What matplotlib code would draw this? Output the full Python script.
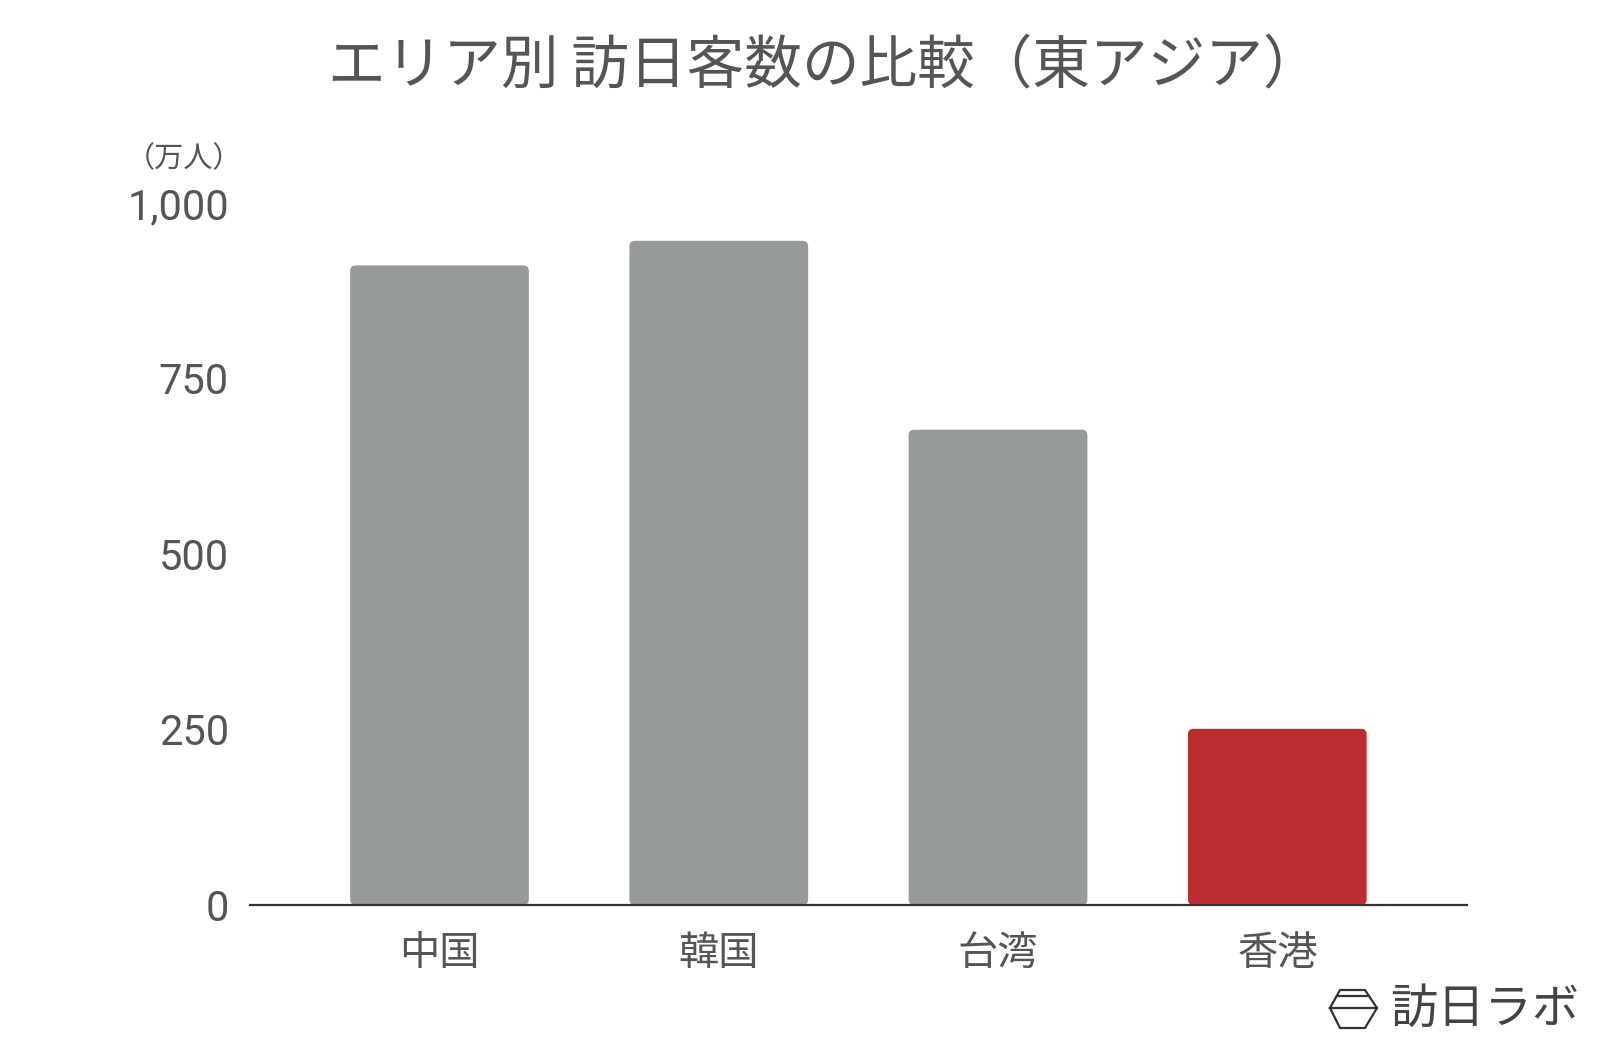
import matplotlib
matplotlib.use("Agg")
import matplotlib.pyplot as plt
from matplotlib.patches import FancyBboxPatch
from matplotlib.lines import Line2D

plt.rcParams['font.family'] = ['Noto Sans CJK JP', 'DejaVu Sans']

categories = ['中国', '韓国', '台湾', '香港']
values = [911, 946, 677, 251]
bar_colors = ['#979a9a', '#979a9a', '#979a9a', '#bb2c30']
yticks = [0, 250, 500, 750, 1000]
ytick_labels = ['0', '250', '500', '750', '1,000']

fig = plt.figure(figsize=(16, 10.46), dpi=100)
ax = fig.add_axes([0.156, 0.1348, 0.761, 0.6712])

width = 0.64
for i, (v, c) in enumerate(zip(values, bar_colors)):
    ax.add_patch(FancyBboxPatch((i - width / 2, 0), width, v,
                                boxstyle="round,pad=0,rounding_size=0.02",
                                mutation_aspect=1000 / 4.36 * 0.761 * 16 / (0.6712 * 10.46),
                                facecolor=c, edgecolor='none'))

ax.set_xlim(-0.68, 3.68)
ax.set_ylim(0, 1000)
ax.set_xticks(range(len(categories)))
ax.set_xticklabels(categories, fontsize=29, color='#555555')
ax.set_yticks(yticks)
ax.set_yticklabels(ytick_labels, fontsize=30, color='#555555',
                   family=['Roboto', 'Noto Sans CJK JP'])
ax.tick_params(axis='both', length=0)
ax.tick_params(axis='y', pad=15)
ax.tick_params(axis='x', pad=20)
for s in ['top', 'right', 'left']:
    ax.spines[s].set_visible(False)
ax.spines['bottom'].set_color('#333333')
ax.spines['bottom'].set_linewidth(1.6)

fig.text(0.515, 0.937, 'エリア別 訪日客数の比較（東アジア）', ha='center', va='center',
         fontsize=41.5, color='#555555')
fig.text(0.115, 0.848, '（万人）', ha='center', va='center', fontsize=21, color='#555555')

# logo
fig.text(1390 / 1600, 1 - 1010 / 1046, '訪日ラボ', ha='left', va='center', fontsize=34,
         color='#444444')
hx = [1330, 1340, 1365, 1377, 1365, 1340, 1330]
hy = [1008, 990, 990, 1008, 1028, 1028, 1008]
fig.add_artist(Line2D([x / 1600 for x in hx], [1 - y / 1046 for y in hy],
                      transform=fig.transFigure, color='#333333', lw=1.6))
fig.add_artist(Line2D([1330 / 1600, 1377 / 1600], [1 - 1008 / 1046] * 2,
                      transform=fig.transFigure, color='#333333', lw=1.6))
fig.add_artist(Line2D([1337 / 1600, 1368 / 1600], [1 - 996 / 1046] * 2,
                      transform=fig.transFigure, color='#333333', lw=1.6))

fig.savefig('out.png', dpi=100)
